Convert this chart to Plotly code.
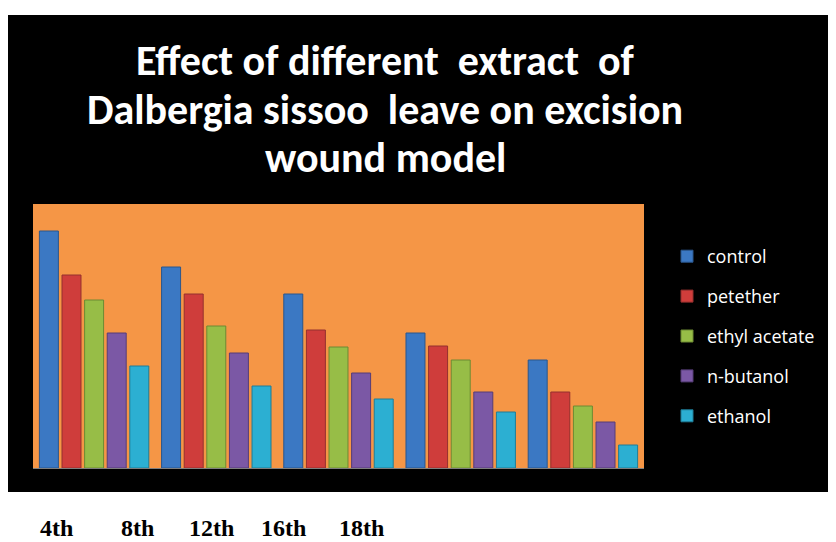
import plotly.graph_objects as go

days = ["4th", "8th", "12th", "16th", "18th"]
series_names = ["control", "petether", "ethyl acetate", "n-butanol", "ethanol"]
control = [237, 201, 174, 135, 108]
petether = [193, 174, 138, 122, 76]
ethyl_acetate = [168, 142, 121, 108, 62]
n_butanol = [135, 115, 95, 76, 46]
ethanol = [102, 82, 69, 56, 23]
values = [control, petether, ethyl_acetate, n_butanol, ethanol]

colors = ["#3b78c3", "#cf3d3b", "#97bd47", "#7b58a5", "#2cafd2"]
edges = ["#2a568c", "#94302e", "#6c8a33", "#563d77", "#1f7d97"]

OFF = 8  # page body margin
W, H = 836 - OFF, 542 - OFF
L, R, T, B = 33 - OFF, 644 - OFF, 204 - OFF, 468 - OFF
pw, ph = R - L, B - T

def px(x):
    return (x - OFF - L) / pw

def py(y):
    return (B - (y - OFF)) / ph

fig = go.Figure()
for i, (name, vals) in enumerate(zip(series_names, values)):
    fig.add_trace(go.Bar(
        x=days, y=vals, name=name,
        legendgroup=name,
        marker=dict(color=colors[i], line=dict(color=edges[i], width=1)),
    ))

title_lines = ["Effect of different\u00a0 extract\u00a0 of",
               "Dalbergia sissoo\u00a0 leave on excision",
               "wound model"]
title_y = [61, 109, 157]

label_x = [56, 137, 211, 283, 361]
annotations = []
for line, yy in zip(title_lines, title_y):
    annotations.append(dict(text="<b>%s</b>" % line, x=px(385), y=py(yy), xref="paper", yref="paper",
                            showarrow=False, xanchor="center", yanchor="middle",
                            font=dict(family="Carlito, Lato, sans-serif", size=42, color="white")))
for d, xx in zip(days, label_x):
    annotations.append(dict(text="<b>%s</b>" % d, x=px(xx), y=py(528), xref="paper", yref="paper",
                            showarrow=False, xanchor="center", yanchor="middle",
                            font=dict(family="Liberation Serif, serif", size=24, color="black")))

fig.update_layout(
    width=W, height=H,
    margin=dict(l=L, r=W - R, t=T, b=H - B, pad=0, autoexpand=False),
    paper_bgcolor="white",
    plot_bgcolor="rgba(0,0,0,0)",
    barmode="group",
    bargap=0.075,
    bargroupgap=0.16,
    showlegend=True,
    legend=dict(x=px(667), xanchor="left", y=py(238), yanchor="top",
                bgcolor="rgba(0,0,0,0)", tracegroupgap=13.5,
                font=dict(family="Open Sans, sans-serif", size=18, color="white")),
    xaxis=dict(showticklabels=False, showline=True, linecolor="#7f7f7f", linewidth=1,
               showgrid=False, ticks="", zeroline=False),
    yaxis=dict(range=[0, 264], visible=False, showgrid=False, zeroline=False),
    shapes=[
        dict(type="rect", xref="paper", yref="paper", x0=px(5), x1=px(836), y0=py(492), y1=py(15),
             fillcolor="black", line=dict(width=0), layer="below"),
        dict(type="rect", xref="paper", yref="paper", x0=0, x1=1, y0=0, y1=1,
             fillcolor="#f59646", line=dict(width=0), layer="below"),
    ],
    annotations=annotations,
)

fig.write_html("out.html")
